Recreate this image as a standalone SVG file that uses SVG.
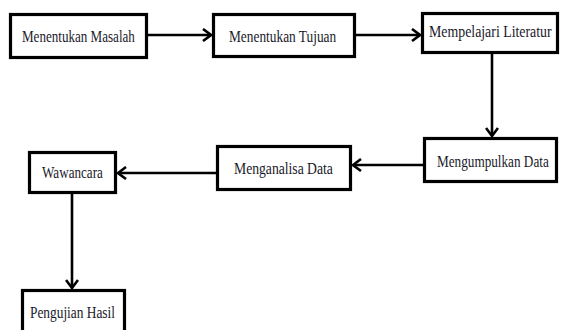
<svg xmlns="http://www.w3.org/2000/svg" width="561" height="330" viewBox="0 0 561 330">
<style>
.box{fill:#fff;stroke:#000;stroke-width:3.2}
.lbl{font-family:"Liberation Serif","Times New Roman",serif;font-size:16.5px;fill:#1a1a2a}
.con{fill:none;stroke:#000;stroke-width:2.6}
</style>
<defs>
<marker id="arr" markerUnits="userSpaceOnUse" viewBox="0 0 10 14" refX="9" refY="7" markerWidth="10" markerHeight="14" orient="auto">
<path d="M1,1 L9,7 L1,13" fill="none" stroke="#000" stroke-width="2.6"/>
</marker>
</defs>
<rect width="561" height="330" fill="#fff"/>
<g id="connectors">
<line class="con" x1="148" y1="35" x2="211" y2="35" marker-end="url(#arr)"/>
<line class="con" x1="356" y1="35" x2="420" y2="35" marker-end="url(#arr)"/>
<line class="con" x1="492" y1="54" x2="492" y2="136" marker-end="url(#arr)"/>
<line class="con" x1="423" y1="165" x2="353" y2="165" marker-end="url(#arr)"/>
<line class="con" x1="216" y1="173" x2="118" y2="173" marker-end="url(#arr)"/>
<line class="con" x1="72" y1="194" x2="72" y2="288" marker-end="url(#arr)"/>
</g>
<g id="n1"><rect class="box" x="10.5" y="14.5" width="136" height="43"/><text class="lbl" transform="translate(22,42) scale(0.793,1)">Menentukan Masalah</text></g>
<g id="n2"><rect class="box" x="213.5" y="14.5" width="141" height="42"/><text class="lbl" transform="translate(229,42) scale(0.81,1)">Menentukan Tujuan</text></g>
<g id="n3"><rect class="box" x="422.5" y="13.5" width="135" height="39"/><text class="lbl" transform="translate(429,37) scale(0.84,1)">Mempelajari Literatur</text></g>
<g id="n4"><rect class="box" x="424.5" y="138.5" width="132" height="43"/><text class="lbl" transform="translate(437,167) scale(0.8,1)">Mengumpulkan Data</text></g>
<g id="n5"><rect class="box" x="217.5" y="146.5" width="133" height="43"/><text class="lbl" transform="translate(234,174) scale(0.828,1)">Menganalisa Data</text></g>
<g id="n6"><rect class="box" x="29.5" y="152.5" width="86" height="40"/><text class="lbl" transform="translate(42,178) scale(0.796,1)">Wawancara</text></g>
<g id="n7"><rect class="box" x="22.5" y="290.5" width="102" height="60"/><text class="lbl" transform="translate(30,318) scale(0.81,1)">Pengujian Hasil</text></g>
</svg>
